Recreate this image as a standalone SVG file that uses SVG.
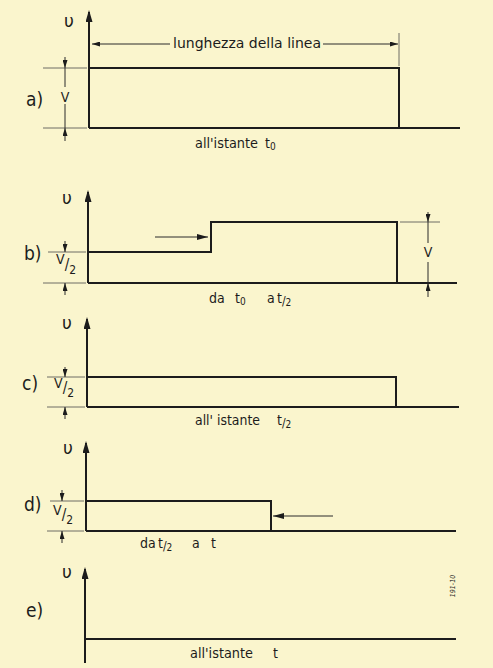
<svg xmlns="http://www.w3.org/2000/svg" width="493" height="668" viewBox="0 0 493 668">
<style>
.ln{stroke:#1c1c1c;stroke-width:2;fill:none}
.th{stroke:#4a4a4a;stroke-width:0.8;fill:none}
.dm{stroke:#2a2a2a;stroke-width:1;fill:none}
.t{font-family:"DejaVu Sans Condensed","Liberation Sans Narrow","DejaVu Sans",sans-serif;fill:#1c1c1c}
.lt{font-size:19px}
.tx{font-size:14px}
.sb{font-size:10px}
.u{font-family:"DejaVu Sans","Liberation Sans",sans-serif;font-size:17px;fill:#1c1c1c}
</style>
<defs>
<marker id="ax" viewBox="0 0 12 7" refX="10" refY="3.5" markerWidth="12" markerHeight="7" markerUnits="userSpaceOnUse" orient="auto"><path d="M0,0 L12,3.5 L0,7 z" fill="#1c1c1c"/></marker>
<marker id="da" viewBox="0 0 8 5" refX="8" refY="2.5" markerWidth="8" markerHeight="5" markerUnits="userSpaceOnUse" orient="auto"><path d="M0,0 L8,2.5 L0,5 z" fill="#1c1c1c"/></marker>
<marker id="fa" viewBox="0 0 11 6" refX="11" refY="3" markerWidth="11" markerHeight="6" markerUnits="userSpaceOnUse" orient="auto"><path d="M0,0 L11,3 L0,6 z" fill="#1c1c1c"/></marker>
</defs>
<rect width="493" height="668" fill="#faf5cd"/>

<g id="panel-a">
<line class="ln" x1="89" y1="128" x2="89" y2="12" marker-end="url(#ax)"/>
<text class="u" x="64" y="27">υ</text>
<line class="dm" x1="170" y1="44" x2="92" y2="44" marker-end="url(#da)"/>
<line class="dm" x1="323" y1="44" x2="398" y2="44" marker-end="url(#da)"/>
<text class="t tx" x="173" y="48" textLength="148" lengthAdjust="spacingAndGlyphs">lunghezza della linea</text>
<line class="th" x1="399" y1="33" x2="399" y2="66"/>
<polyline class="ln" points="89,68 399,68 399,128"/>
<line class="ln" x1="89" y1="128" x2="460" y2="128"/>
<line class="th" x1="43" y1="68" x2="87" y2="68"/>
<line class="th" x1="43" y1="128" x2="87" y2="128"/>
<line class="dm" x1="65" y1="57" x2="65" y2="68" marker-end="url(#da)"/>
<line class="dm" x1="65" y1="68" x2="65" y2="87"/>
<line class="dm" x1="65" y1="104" x2="65" y2="128"/>
<line class="dm" x1="65" y1="141" x2="65" y2="128" marker-end="url(#da)"/>
<text class="t tx" x="65" y="102" text-anchor="middle">V</text>
<text class="t lt" x="26" y="106">a)</text>
<text class="t tx" x="195" y="148" textLength="63" lengthAdjust="spacingAndGlyphs">all'istante</text>
<text class="t tx" x="265" y="148">t<tspan class="sb" dy="2">0</tspan></text>
</g>

<g id="panel-b">
<line class="ln" x1="88" y1="283" x2="88" y2="192" marker-end="url(#ax)"/>
<text class="u" x="62" y="204">υ</text>
<text class="t lt" x="24" y="260">b)</text>
<polyline class="ln" points="88,252 211,252 211,222 397,222 397,283"/>
<line class="ln" x1="88" y1="283" x2="457" y2="283"/>
<line class="dm" x1="155" y1="237" x2="208" y2="237" marker-end="url(#fa)"/>
<line class="th" x1="48" y1="252" x2="86" y2="252"/>
<line class="th" x1="43" y1="283" x2="86" y2="283"/>
<line class="dm" x1="65" y1="241" x2="65" y2="252" marker-end="url(#da)"/>
<line class="dm" x1="65" y1="295" x2="65" y2="283" marker-end="url(#da)"/>
<text class="t tx" x="56" y="264">V<tspan dy="6" font-size="15">/</tspan><tspan dy="4" font-size="12">2</tspan></text>
<line class="th" x1="400" y1="222" x2="440" y2="222"/>
<line class="dm" x1="428" y1="212" x2="428" y2="222" marker-end="url(#da)"/>
<line class="dm" x1="428" y1="222" x2="428" y2="243"/>
<line class="dm" x1="428" y1="262" x2="428" y2="283"/>
<line class="dm" x1="428" y1="297" x2="428" y2="283" marker-end="url(#da)"/>
<text class="t tx" x="428" y="257" text-anchor="middle">V</text>
<text class="t tx" x="209" y="303">da</text>
<text class="t tx" x="235" y="303">t<tspan class="sb" dy="2">0</tspan></text>
<text class="t tx" x="267" y="303">a</text>
<text class="t tx" x="277" y="303">t<tspan dy="2" font-size="12">/</tspan><tspan class="sb" dy="1">2</tspan></text>
</g>

<g id="panel-c">
<line class="ln" x1="87" y1="407" x2="87" y2="319" marker-end="url(#ax)"/>
<text class="u" x="62" y="329">υ</text>
<text class="t lt" x="22" y="390">c)</text>
<polyline class="ln" points="87,377 396,377 396,407"/>
<line class="ln" x1="87" y1="407" x2="459" y2="407"/>
<line class="th" x1="47" y1="377" x2="85" y2="377"/>
<line class="th" x1="47" y1="407" x2="85" y2="407"/>
<line class="dm" x1="65" y1="367" x2="65" y2="377" marker-end="url(#da)"/>
<line class="dm" x1="65" y1="419" x2="65" y2="407" marker-end="url(#da)"/>
<text class="t tx" x="54" y="388">V<tspan dy="5" font-size="15">/</tspan><tspan dy="4" font-size="12">2</tspan></text>
<text class="t tx" x="195" y="425" textLength="65" lengthAdjust="spacingAndGlyphs">all' istante</text>
<text class="t tx" x="277" y="425">t<tspan dy="2" font-size="12">/</tspan><tspan class="sb" dy="1">2</tspan></text>
</g>

<g id="panel-d">
<line class="ln" x1="86" y1="531" x2="86" y2="443" marker-end="url(#ax)"/>
<text class="u" x="63" y="454">υ</text>
<text class="t lt" x="24" y="511">d)</text>
<polyline class="ln" points="86,501 271,501 271,531"/>
<line class="ln" x1="86" y1="531" x2="456" y2="531"/>
<line class="dm" x1="333" y1="516" x2="273" y2="516" marker-end="url(#fa)"/>
<line class="th" x1="50" y1="501" x2="84" y2="501"/>
<line class="th" x1="47" y1="531" x2="84" y2="531"/>
<line class="dm" x1="62" y1="490" x2="62" y2="501" marker-end="url(#da)"/>
<line class="dm" x1="62" y1="543" x2="62" y2="531" marker-end="url(#da)"/>
<text class="t tx" x="53" y="515">V<tspan dy="5" font-size="15">/</tspan><tspan dy="4" font-size="12">2</tspan></text>
<text class="t tx" x="140" y="548">da</text>
<text class="t tx" x="158" y="548">t<tspan dy="2" font-size="12">/</tspan><tspan class="sb" dy="1">2</tspan></text>
<text class="t tx" x="192" y="548">a</text>
<text class="t tx" x="211" y="548">t</text>
</g>

<g id="panel-e">
<line class="ln" x1="85" y1="663" x2="85" y2="569" marker-end="url(#ax)"/>
<text class="u" x="62" y="578">υ</text>
<text class="t lt" x="26" y="617">e)</text>
<line class="ln" x1="85" y1="639" x2="456" y2="639"/>
<text class="t tx" x="190" y="658" textLength="63" lengthAdjust="spacingAndGlyphs">all'istante</text>
<text class="t tx" x="273" y="658">t</text>
<text class="t" font-size="7" font-style="italic" transform="translate(455,586) rotate(-90)" text-anchor="middle">191-10</text>
</g>
</svg>
